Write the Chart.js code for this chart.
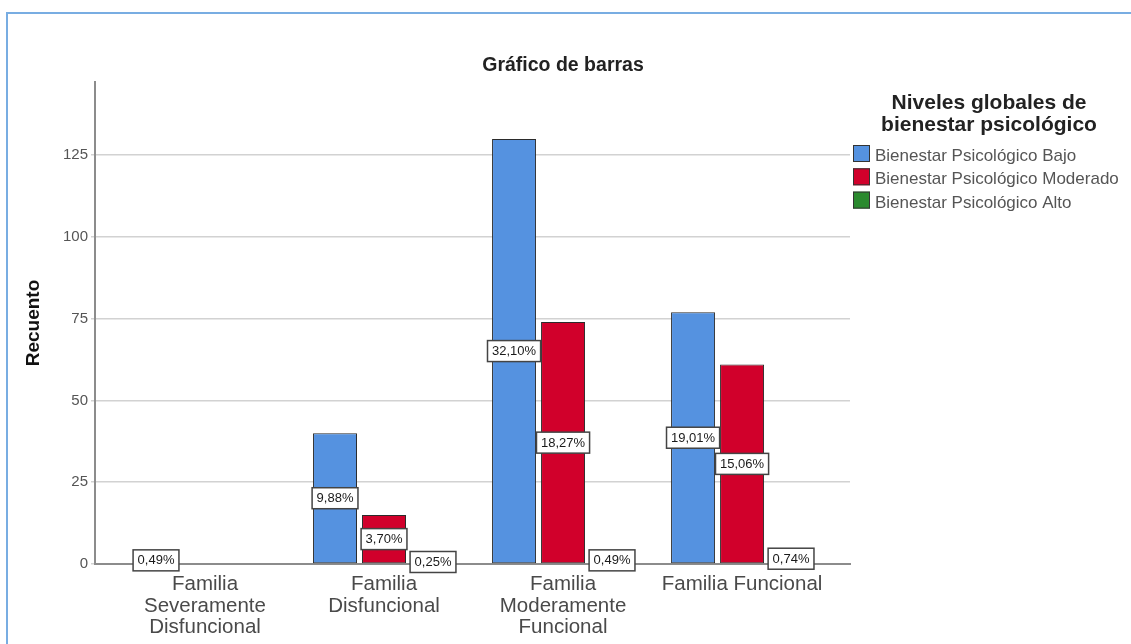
<!DOCTYPE html>
<html><head><meta charset="utf-8">
<script src="https://cdn.jsdelivr.net/npm/chart.js@4.4.0/dist/chart.umd.min.js"></script>
<style>
html,body{margin:0;padding:0;background:#fff;overflow:hidden;}
#wrap{position:relative;width:1131px;height:644px;}
#frame{position:absolute;left:6px;top:12px;right:0;bottom:0;border-top:2px solid #78ade2;border-left:2px solid #78ade2;pointer-events:none;}
canvas{display:block;}
</style></head><body>
<div id="wrap"><canvas id="c" width="1131" height="644"></canvas><div id="frame"></div></div>
<script>
const chartTitle = "Gráfico de barras";
const legendTitle = ["Niveles globales de", "bienestar psicológico"];
const categories = [["Familia","Severamente","Disfuncional"],["Familia","Disfuncional"],["Familia","Moderamente","Funcional"],["Familia Funcional"]];
const seriesNames = ["Bienestar Psicológico Bajo","Bienestar Psicológico Moderado","Bienestar Psicológico Alto"];
const bajo = [2, 40, 130, 77];
const moderado = [0, 15, 74, 61];
const alto = [0, 1, 2, 3];
const yTicks = [0, 25, 50, 75, 100, 125];
const colors = ['#5592e0', '#d1002b', '#2a8a2e'];

const FONT = 'Arial, "Liberation Sans", sans-serif';
Chart.defaults.font.family = FONT;

const seriesValues = [bajo, moderado, alto];
const total = seriesValues.reduce((s, arr) => s + arr.reduce((a, b) => a + b, 0), 0);

const datasets = seriesValues.map((vals, k) => ({
  label: seriesNames[k],
  data: vals.map((v, i) => ({x: i, y: v})),
  backgroundColor: colors[k],
  borderColor: '#2b2b2b',
  borderWidth: 1,
  borderSkipped: false,
  categoryPercentage: 0.821,
  barPercentage: 0.898
}));

const labelPlugin = {
  id: 'pctLabels',
  afterDatasetsDraw(chart) {
    const ctx = chart.ctx;
    ctx.save();
    ctx.font = '13px ' + FONT;
    ctx.textAlign = 'center';
    ctx.textBaseline = 'middle';
    chart.data.datasets.forEach((ds, k) => {
      const meta = chart.getDatasetMeta(k);
      meta.data.forEach((el, i) => {
        const v = seriesValues[k][i];
        if (!v) return;
        const txt = (v / total * 100).toFixed(2).replace('.', ',') + '%';
        const w = ctx.measureText(txt).width + 9;
        const h = 21;
        const cy = (el.y + el.base) / 2;
        ctx.fillStyle = '#fff';
        ctx.fillRect(el.x - w / 2, cy - h / 2, w, h);
        ctx.strokeStyle = '#444';
        ctx.lineWidth = 1.5;
        ctx.strokeRect(el.x - w / 2, cy - h / 2, w, h);
        ctx.fillStyle = '#1a1a1a';
        ctx.fillText(txt, el.x, cy + 0.5);
      });
    });
    ctx.restore();
  }
};

const decorPlugin = {
  id: 'decor',
  afterDraw(chart) {
    const ctx = chart.ctx;
    ctx.save();
    ctx.fillStyle = '#222';
    ctx.font = 'bold 19.5px ' + FONT;
    ctx.textAlign = 'center';
    ctx.textBaseline = 'middle';
    ctx.fillText(chartTitle, 563, 66);
    ctx.font = 'bold 21px ' + FONT;
    ctx.textBaseline = 'alphabetic';
    legendTitle.forEach((t, i) => ctx.fillText(t, 989, 109 + i * 21.5));
    ctx.textAlign = 'left';
    ctx.font = '17px ' + FONT;
    chart.data.datasets.forEach((ds, k) => {
      const top = 145 + k * 23.3;
      ctx.fillStyle = ds.backgroundColor;
      ctx.fillRect(853, top, 17, 17);
      ctx.strokeStyle = '#333';
      ctx.lineWidth = 1;
      ctx.strokeRect(853.5, top + 0.5, 16, 16);
      ctx.fillStyle = '#555';
      ctx.fillText(ds.label, 875, top + 16);
    });
    ctx.restore();
  }
};

new Chart(document.getElementById('c'), {
  type: 'bar',
  data: {datasets},
  plugins: [labelPlugin, decorPlugin],
  options: {
    responsive: false,
    animation: false,
    layout: {padding: {top: 82, right: 281, left: 0, bottom: 0}},
    plugins: {legend: {display: false}, title: {display: false}, tooltip: {enabled: false}},
    scales: {
      x: {
        type: 'linear',
        offset: false,
        min: -0.6145,
        max: 3.603,
        grid: {display: false, drawTicks: false, offset: false},
        border: {display: true, color: '#8c8c8c', width: 2},
        afterBuildTicks: s => { s.ticks = categories.map((c, i) => ({value: i})); },
        ticks: {
          callback: v => categories[v],
          maxRotation: 0, minRotation: 0, autoSkip: false,
          padding: 10,
          color: '#4a4a4a',
          font: {size: 20.5, lineHeight: 1.05}
        },
        afterFit: s => { s.height = 80; }
      },
      y: {
        min: 0,
        max: 147.4,
        afterBuildTicks: s => { s.ticks = yTicks.map(v => ({value: v})); },
        grid: {color: '#d2d2d2', lineWidth: 1.5, tickLength: 4, drawTicks: true},
        border: {display: true, color: '#8c8c8c', width: 2},
        ticks: {padding: 3, color: '#555', font: {size: 15}},
        title: {display: true, text: 'Recuento', color: '#111', font: {size: 19, weight: 'bold'}, padding: {top: 22, bottom: 0}},
        afterFit: s => { s.width = 95; }
      }
    }
  }
});
</script>
</body></html>
